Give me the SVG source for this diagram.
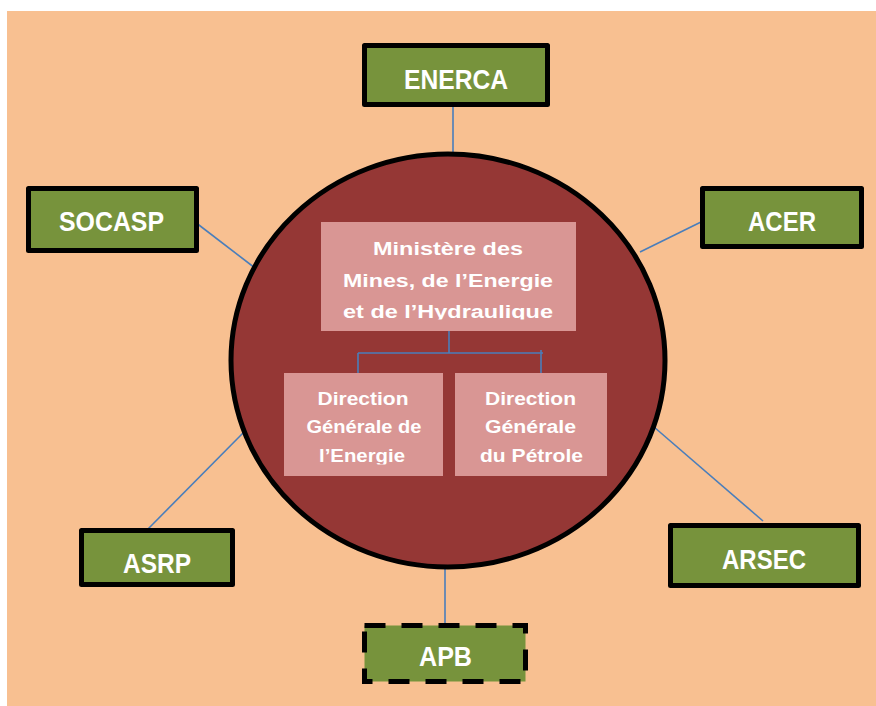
<svg xmlns="http://www.w3.org/2000/svg" width="876" height="706" viewBox="0 0 876 706">
<defs>
<style>
.box{fill:#77933C;stroke:#000;stroke-width:5;stroke-linejoin:round}
.dash{fill:#77933C;stroke:#000;stroke-width:5;stroke-dasharray:21 16}
.lbl{font-family:"Liberation Sans",Arial,sans-serif;font-weight:bold;font-size:28px;fill:#fff;text-anchor:middle}
.in{font-family:"Liberation Sans",Arial,sans-serif;font-weight:bold;font-size:18px;fill:#fff;text-anchor:middle}
.pink{fill:#D99694}
.con{stroke:#4A7EBB;stroke-width:1.6;fill:none}
</style>
<clipPath id="c1"><rect x="321" y="222" width="255" height="97.5"/></clipPath>
<clipPath id="c2"><rect x="284" y="373" width="325" height="91.5"/></clipPath>
</defs>
<rect x="0" y="0" width="876" height="706" fill="#fff"/>
<rect x="7" y="11" width="869" height="695" fill="#F8C091"/>

<g id="connectors">
<line class="con" x1="453" y1="107" x2="453" y2="154"/>
<line class="con" x1="195" y1="222" x2="255" y2="268"/>
<line class="con" x1="701" y1="222" x2="640" y2="252"/>
<line class="con" x1="148" y1="529" x2="244" y2="432"/>
<line class="con" x1="763" y1="521" x2="654" y2="427"/>
<line class="con" x1="445" y1="566" x2="445" y2="623"/>
</g>

<g id="hub">
<ellipse cx="448" cy="360.5" rx="217" ry="206.5" fill="#953735" stroke="#000" stroke-width="5"/>
</g>

<g id="ministere">
<rect class="pink" x="321" y="222" width="255" height="109"/>
<g clip-path="url(#c1)">
<text class="in" x="448" y="255" textLength="150" lengthAdjust="spacingAndGlyphs">Ministère des</text>
<text class="in" x="448" y="287" textLength="210" lengthAdjust="spacingAndGlyphs">Mines, de l’Energie</text>
<text class="in" x="448" y="318" textLength="210" lengthAdjust="spacingAndGlyphs">et de l’Hydraulique</text>
</g>
</g>

<g id="tree-connectors">
<line class="con" x1="449" y1="331" x2="449" y2="353"/>
<line class="con" x1="358" y1="353" x2="543" y2="353"/>
<line class="con" x1="358" y1="353" x2="358" y2="375"/>
<line class="con" x1="541" y1="350" x2="541" y2="375"/>
</g>

<g id="dg-energie">
<rect class="pink" x="284" y="373" width="159" height="103"/>
<g clip-path="url(#c2)">
<text class="in" x="363" y="405" textLength="91" lengthAdjust="spacingAndGlyphs">Direction</text>
<text class="in" x="364" y="433" textLength="115" lengthAdjust="spacingAndGlyphs">Générale de</text>
<text class="in" x="362" y="462" textLength="86" lengthAdjust="spacingAndGlyphs">l’Energie</text>
</g>
</g>

<g id="dg-petrole">
<rect class="pink" x="455" y="373" width="152" height="103"/>
<g clip-path="url(#c2)">
<text class="in" x="530.5" y="405" textLength="91" lengthAdjust="spacingAndGlyphs">Direction</text>
<text class="in" x="530.5" y="433" textLength="91" lengthAdjust="spacingAndGlyphs">Générale</text>
<text class="in" x="531.5" y="462" textLength="103" lengthAdjust="spacingAndGlyphs">du Pétrole</text>
</g>
</g>

<g id="enerca">
<rect class="box" x="364.5" y="45.5" width="183" height="59"/>
<text class="lbl" x="456" y="89" textLength="104" lengthAdjust="spacingAndGlyphs">ENERCA</text>
</g>
<g id="socasp">
<rect class="box" x="28.5" y="188.5" width="168" height="62"/>
<text class="lbl" x="111.5" y="231" textLength="105" lengthAdjust="spacingAndGlyphs">SOCASP</text>
</g>
<g id="acer">
<rect class="box" x="702.5" y="188.5" width="159" height="58"/>
<text class="lbl" x="782" y="231" textLength="68" lengthAdjust="spacingAndGlyphs">ACER</text>
</g>
<g id="asrp">
<rect class="box" x="81.5" y="530.5" width="151" height="54"/>
<text class="lbl" x="157" y="573" textLength="68" lengthAdjust="spacingAndGlyphs">ASRP</text>
</g>
<g id="arsec">
<rect class="box" x="670.5" y="525.5" width="188" height="60"/>
<text class="lbl" x="764" y="569" textLength="84" lengthAdjust="spacingAndGlyphs">ARSEC</text>
</g>
<g id="apb">
<rect class="dash" x="364.5" y="625.5" width="161" height="56"/>
<text class="lbl" x="445.5" y="666" textLength="53" lengthAdjust="spacingAndGlyphs">APB</text>
</g>
</svg>
